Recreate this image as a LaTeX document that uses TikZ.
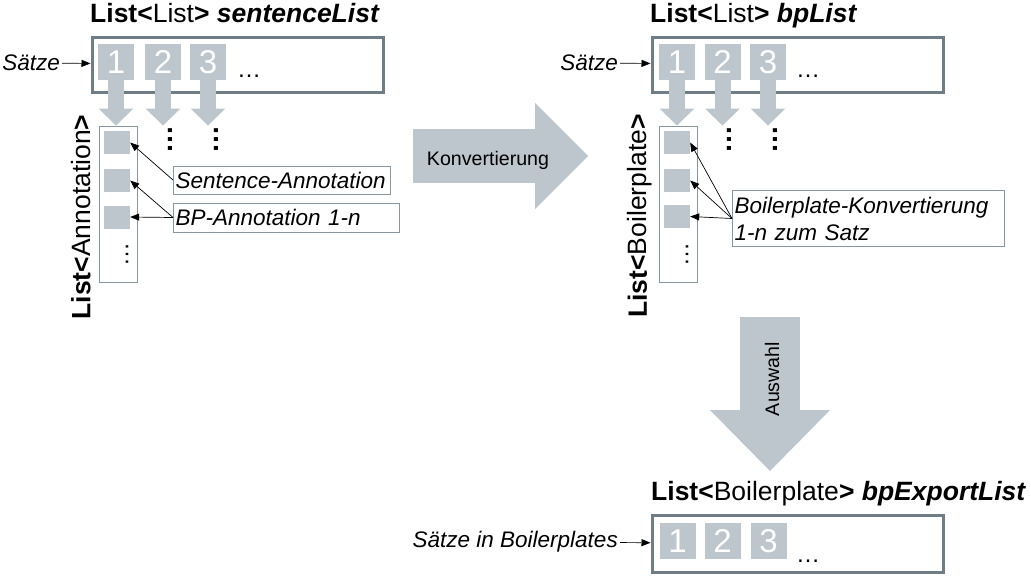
\documentclass[tikz,border=0pt]{standalone}
\usepackage{fontspec}
\setmainfont{Liberation Sans}
\usetikzlibrary{arrows.meta}
\definecolor{bpgray}{RGB}{188,198,204}
\definecolor{bpframe}{RGB}{110,125,134}
\definecolor{bpthin}{RGB}{135,150,160}

\begin{document}
\begin{tikzpicture}[x=1pt, y=-1pt,
    frame/.style={draw=bpframe, line width=3pt, minimum width=291pt, minimum height=55pt, anchor=north west},
    num/.style={fill=bpgray, text=white, minimum width=36pt, minimum height=36pt, inner sep=0pt, font=\fontsize{33}{33}\selectfont},
    sub/.style={fill=bpgray, minimum width=26pt, minimum height=23pt, inner sep=0pt},
    slot/.style={draw=bpthin, line width=1pt, minimum width=38pt, minimum height=156pt, anchor=north west},
    lab/.style={font=\fontsize{22.5}{27}\selectfont\itshape, inner sep=2pt},
    tag/.style={draw=bpthin, line width=1pt, align=left},
    title/.style={font=\fontsize{26.5}{26.5}\selectfont, inner sep=0pt},
    big/.style={font=\fontsize{19.6}{19.6}\selectfont, inner sep=0pt},
    dots/.style={font=\fontsize{24}{24}\selectfont, inner sep=0pt},
    bdots/.style={font=\fontsize{28}{28}\selectfont\bfseries, inner sep=0pt, rotate=90},
    fat/.style={draw=bpgray, line width=16pt, -{Triangle[width=35pt,length=17pt,line width=0pt]}},
    ptr/.style={line width=0.7pt, -{Triangle[length=9pt,width=7pt]}}]
    \useasboundingbox (0,0) rectangle (1031,576);

    \node[frame] (sl) at (90.5,35.5) {};
    \node[title, anchor=base west] (slt) at (90,22) {\textbf{List<}List\textbf{> \textit{sentenceList}}};
    \node[num] (s1) at (116,62) {1};
    \node[num] (s2) at (163,62) {2};
    \node[num] (s3) at (208,62) {3};
    \node[dots] (sld) at (249,76) {…};
    \node[lab, anchor=east] (sz1) at (62,63) {Sätze};
    \draw[ptr] (sz1) -- (sl);
    \node[slot] (al) at (98.5,125.5) {};
    \node[sub] (a1) at (117,142.5) {};
    \node[sub] (a2) at (117,180.5) {};
    \node[sub] (a3) at (117,217) {};
    \node[dots, rotate=90] (ald) at (127,254) {…};
    \node[title, rotate=90] (alt) at (81,217) {\textbf{List<}Annotation\textbf{>}};
    \draw[fat] (s1.south) -- (s1.south |- al.north);
    \draw[fat] (s2.south) -- (s2.south |- al.north);
    \draw[fat] (s3.south) -- (s3.south |- al.north);
    \node[bdots] (sd2) at (170,139) {…};
    \node[bdots] (sd3) at (216,139) {…};
    \node[lab, tag, anchor=west, text width=213pt, minimum height=28pt] (sa) at (173,180) {Sentence-Annotation};
    \node[lab, tag, anchor=west, text width=222pt, minimum height=29pt] (bpa) at (173,217.5) {BP-Annotation 1-n};
    \draw[ptr] (sa.west) -- (a1.east);
    \draw[ptr] (bpa.west) -- (a2.east);
    \draw[ptr] (bpa.west) -- (a3.east);

    \coordinate (kv1) at (413,156);
    \coordinate (kv2) at (588,156);
    \draw[bpgray, line width=54pt, -{Triangle[width=106pt,length=53pt,line width=0pt]}] (kv1) -- (kv2);
    \node[big] (kvt) at (488,160) {Konvertierung};

    \node[frame] (bl) at (650.5,35.5) {};
    \node[title, anchor=base west] (blt) at (650,22) {\textbf{List<}List\textbf{> \textit{bpList}}};
    \node[num] (b1) at (677,62) {1};
    \node[num] (b2) at (722.5,62) {2};
    \node[num] (b3) at (768,62) {3};
    \node[dots] (bld) at (808,76) {…};
    \node[lab, anchor=east] (sz2) at (620,63) {Sätze};
    \draw[ptr] (sz2) -- (bl);
    \node[slot] (bx) at (658.5,125.5) {};
    \node[sub] (q1) at (677,142.5) {};
    \node[sub] (q2) at (677,180.5) {};
    \node[sub] (q3) at (677,216.5) {};
    \node[dots, rotate=90] (bxd) at (687,254) {…};
    \node[title, rotate=90] (bxt) at (640,216) {\textbf{List<}Boilerplate\textbf{>}};
    \draw[fat] (b1.south) -- (b1.south |- bx.north);
    \draw[fat] (b2.south) -- (b2.south |- bx.north);
    \draw[fat] (b3.south) -- (b3.south |- bx.north);
    \node[bdots] (bd2) at (729,139) {…};
    \node[bdots] (bd3) at (775,139) {…};
    \node[lab, tag, anchor=north west, text width=268pt, minimum height=56pt] (bk) at (732,190) {Boilerplate-Konvertierung\\1-n zum Satz};
    \draw[ptr] (bk.west) -- (q1.east);
    \draw[ptr] (bk.west) -- (q2.east);
    \draw[ptr] (bk.west) -- (q3.east);

    \coordinate (aw1) at (770,317);
    \coordinate (aw2) at (770,471);
    \draw[bpgray, line width=60pt, -{Triangle[width=120pt,length=61pt,line width=0pt]}] (aw1) -- (aw2);
    \node[big, rotate=90] (awt) at (772,379) {Auswahl};

    \node[frame, minimum height=57pt] (el) at (650.5,513.5) {};
    \node[title, anchor=base west] (elt) at (651,500) {\textbf{List<}Boilerplate\textbf{> \textit{bpExportList}}};
    \node[num] (e1) at (677.5,541) {1};
    \node[num] (e2) at (722.5,541) {2};
    \node[num] (e3) at (768.5,541) {3};
    \node[dots] (eld) at (808,561) {…};
    \node[lab, anchor=east] (sz3) at (620,542) {Sätze in Boilerplates};
    \draw[ptr] (sz3) -- (el);
\end{tikzpicture}
\end{document}
